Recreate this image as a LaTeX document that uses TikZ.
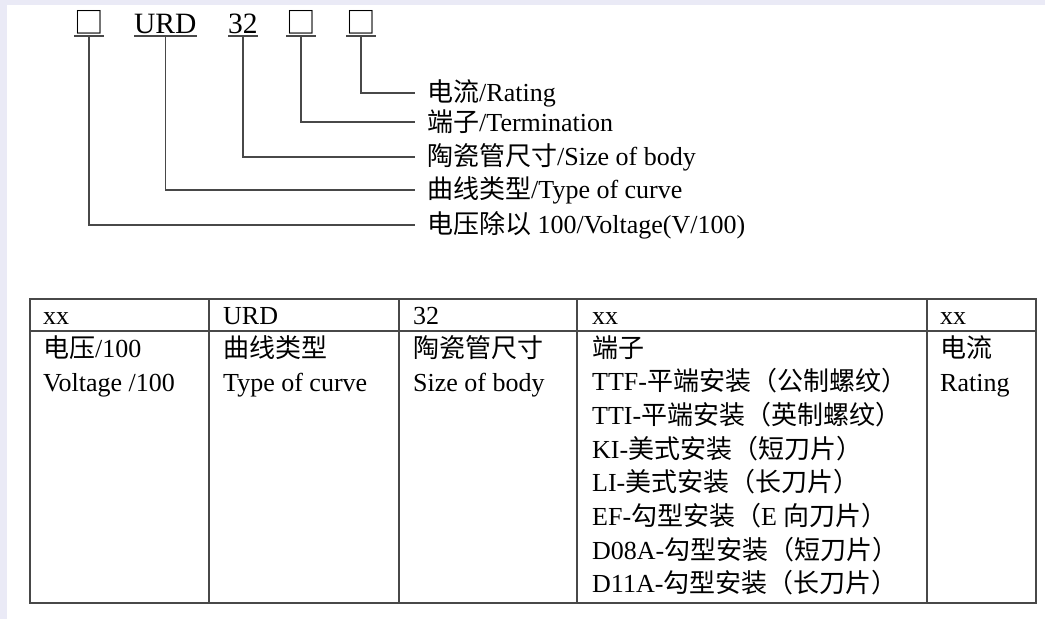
\documentclass[tikz,border=0pt]{standalone}
\usepackage{fontspec}
\setmainfont{Liberation Serif}
\newfontfamily\cjk{Noto Sans CJK SC}
\usepackage{tikz}

\definecolor{pagebg}{RGB}{234,234,246}
\definecolor{rulegray}{RGB}{72,72,72}
\tikzset{
  code/.style={anchor=base west, inner sep=0pt, font=\fontsize{29.5}{29.5}\selectfont},
  lbl/.style={anchor=west, inner xsep=12pt, inner ysep=0pt, font=\fontsize{26}{26}\selectfont},
  cell/.style={anchor=base west, inner sep=0pt, font=\fontsize{26}{26}\selectfont},
  wire/.style={draw=rulegray, line width=1.5pt},
  grid/.style={draw=rulegray, line width=1.8pt}
}

\begin{document}
\begin{tikzpicture}[x=1pt,y=-1pt]
    \fill[white] (0,0) rectangle (1045,619);
    \fill[pagebg] (0,0) rectangle (1045,4.5);
    \fill[pagebg] (0,0) rectangle (7,619);
    \useasboundingbox (0,0) rectangle (1045,619);

    \node[code] (c1) at (74,33) {{\cjk □}};
    \node[code] (c2) at (134,33) {URD};
    \node[code] (c3) at (228,33) {32};
    \node[code] (c4) at (286,33) {{\cjk □}};
    \node[code] (c5) at (346,33) {{\cjk □}};
    \foreach \c in {c1,c2,c3,c4,c5} \draw[wire] ([yshift=-3pt]\c.base west) -- ([yshift=-3pt]\c.base east);

    \node[lbl] (l5) at (415,93) {{\cjk 电流}/Rating};
    \node[lbl] (l4) at (415,122) {{\cjk 端子}/Termination};
    \node[lbl] (l3) at (415,157) {{\cjk 陶瓷管尺寸}/Size of body};
    \node[lbl] (l2) at (415,190) {{\cjk 曲线类型}/Type of curve};
    \node[lbl] (l1) at (415,225) {{\cjk 电压除以} 100/Voltage(V/100)};

    \foreach \i in {1,...,5} \draw[wire] ([yshift=-3pt]c\i.base) |- (l\i.west);

    \draw[grid] (30,299) rectangle (1036,603);
    \draw[grid] (30,331) -- (1036,331);
    \foreach \cx in {209,399,577,927} \draw[grid] (\cx,299) -- (\cx,603);

    \foreach \cx/\h [count=\i] in {43/xx,223/URD,413/32,592/xx,940/xx} \node[cell] (h\i) at (\cx,324) {\h};

    \node[cell] (v1) at (43,357) {{\cjk 电压}/100};
    \node[cell] (v2) at (43,391) {Voltage /100};
    \node[cell] (u1) at (223,357) {{\cjk 曲线类型}};
    \node[cell] (u2) at (223,391) {Type of curve};
    \node[cell] (s1) at (413,357) {{\cjk 陶瓷管尺寸}};
    \node[cell] (s2) at (413,391) {Size of body};
    \node[cell] (r1) at (940,357) {{\cjk 电流}};
    \node[cell] (r2) at (940,391) {Rating};

    \node[cell] (t0) at (592,357) {{\cjk 端子}};
    \foreach \t [count=\i] in {{TTF-{\cjk 平端安装（公制螺纹）}},
                               {TTI-{\cjk 平端安装（英制螺纹）}},
                               {KI-{\cjk 美式安装（短刀片）}},
                               {LI-{\cjk 美式安装（长刀片）}},
                               {EF-{\cjk 勾型安装（}E {\cjk 向刀片）}},
                               {D08A-{\cjk 勾型安装（短刀片）}},
                               {D11A-{\cjk 勾型安装（长刀片）}}}
        \node[cell] (t\i) at (592,357+33.7*\i) {\t};
\end{tikzpicture}
\end{document}
